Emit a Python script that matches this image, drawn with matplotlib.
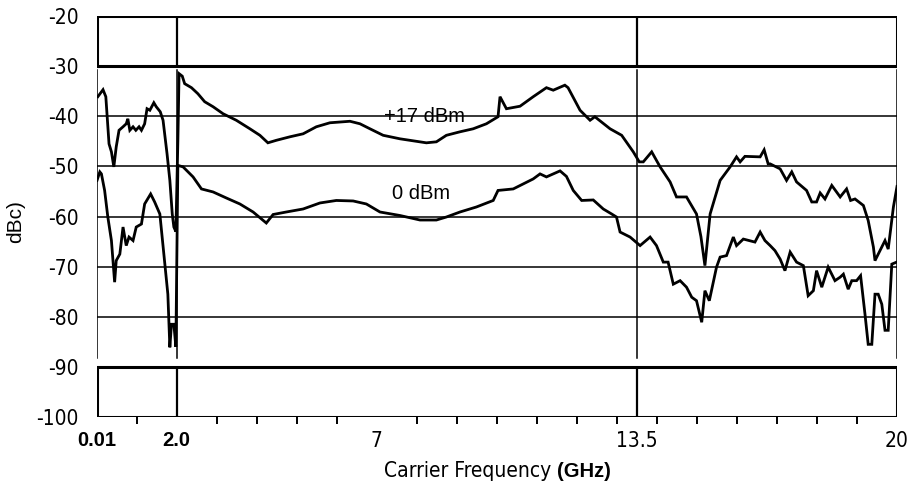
import matplotlib
matplotlib.use("Agg")
import matplotlib.pyplot as plt

# ====== DỮ LIỆU ======
# Tần số sóng mang (GHz) và mức hài (dBc) cho hai mức công suất
freq_hi = [0.03, 0.16, 0.23, 0.31, 0.37, 0.43, 0.49, 0.56, 0.66, 0.74, 0.78, 0.83,
           0.91, 0.98, 1.06, 1.12, 1.20, 1.26, 1.33, 1.43, 1.49, 1.59, 1.66, 1.76,
           1.83, 1.89, 1.93, 1.98, 2.03, 2.06, 2.14, 2.20, 2.37, 2.53, 2.70, 2.91,
           3.16, 3.49, 3.83, 4.08, 4.28, 4.49, 4.83, 5.16, 5.49, 5.83, 6.33, 6.58,
           6.83, 7.16, 7.58, 8.24, 8.49, 8.74, 9.08, 9.41, 9.74, 10.03, 10.08, 10.24,
           10.58, 10.91, 11.24, 11.41, 11.70, 11.78, 12.08, 12.33, 12.45, 12.83, 13.12,
           13.41, 13.56, 13.66, 13.87, 14.08, 14.33, 14.49, 14.74, 14.99, 15.10, 15.20,
           15.33, 15.58, 15.83, 15.99, 16.08, 16.20, 16.58, 16.68, 16.78, 16.83, 17.08,
           17.24, 17.37, 17.49, 17.74, 17.87, 17.99, 18.08, 18.20, 18.37, 18.58, 18.74,
           18.84, 18.95, 19.16, 19.28, 19.41, 19.45, 19.70, 19.78, 19.91, 20.0]
dbc_hi = [-36.1, -34.7, -36.1, -45.5, -47.1, -50.1, -46.1, -42.8, -42.1, -41.5, -40.5, -42.8,
          -42.1, -42.8, -42.1, -42.8, -41.5, -38.5, -38.8, -37.3, -38.1, -39.1, -40.8, -47.5,
          -52.8, -59.5, -62.1, -63.0, -45.0, -31.5, -32.0, -33.5, -34.3, -35.5, -37.1, -38.1,
          -39.5, -40.8, -42.5, -43.8, -45.3, -44.8, -44.1, -43.5, -42.1, -41.3, -41.0, -41.5,
          -42.5, -43.8, -44.5, -45.3, -45.1, -43.8, -43.1, -42.5, -41.5, -40.1, -36.1, -38.5,
          -38.0, -36.1, -34.3, -34.8, -33.8, -34.3, -38.8, -40.8, -40.1, -42.5, -43.8,
          -47.1, -49.1, -49.1, -47.1, -50.1, -53.1, -56.1, -56.1, -59.5, -64.0, -69.8,
          -59.5, -52.8, -50.1, -48.1, -49.1, -48.0, -48.1, -46.7, -49.5, -49.5, -50.5,
          -52.8, -51.1, -53.1, -54.8, -57.1, -57.1, -55.3, -56.5, -53.8, -56.1, -54.5,
          -56.8, -56.5, -57.8, -60.8, -66.1, -68.8, -64.8, -66.5, -58.1, -54.0]

freq_lo = [0.01, 0.08, 0.12, 0.20, 0.28, 0.37, 0.45, 0.49, 0.58, 0.66, 0.74, 0.81,
           0.91, 0.99, 1.12, 1.20, 1.35, 1.45, 1.58, 1.68, 1.78, 1.83, 1.87, 1.93,
           1.98, 2.03, 2.16, 2.41, 2.62, 2.91, 3.24, 3.58, 3.91, 4.24, 4.41, 4.74,
           5.16, 5.58, 5.99, 6.41, 6.74, 7.08, 7.58, 8.08, 8.49, 8.74, 9.08, 9.49,
           9.91, 10.03, 10.41, 10.91, 11.08, 11.24, 11.41, 11.58, 11.74, 11.91, 12.12,
           12.41, 12.66, 12.87, 12.99, 13.08, 13.33, 13.58, 13.83, 13.99, 14.16, 14.28,
           14.41, 14.58, 14.74, 14.87, 14.99, 15.12, 15.20, 15.31, 15.49, 15.58, 15.74,
           15.91, 15.99, 16.16, 16.45, 16.58, 16.70, 16.83, 16.95, 17.08, 17.20, 17.33,
           17.49, 17.66, 17.78, 17.91, 17.99, 18.12, 18.28, 18.45, 18.58, 18.66, 18.78,
           18.87, 18.99, 19.09, 19.20, 19.28, 19.37, 19.45, 19.53, 19.62, 19.70, 19.78,
           19.87, 19.99]
dbc_lo = [-52.8, -51.1, -51.5, -54.8, -60.1, -64.8, -73.1, -68.8, -67.5, -62.1, -65.8, -64.1,
          -64.8, -62.1, -61.5, -57.5, -55.5, -57.1, -59.5, -67.5, -75.5, -86.1, -81.5, -81.5,
          -86.0, -49.8, -50.1, -52.1, -54.5, -55.1, -56.3, -57.5, -59.1, -61.3, -59.6, -59.1,
          -58.5, -57.3, -56.8, -56.9, -57.5, -59.1, -59.8, -60.7, -60.7, -60.1, -59.1, -58.1,
          -56.8, -54.8, -54.5, -52.5, -51.5, -52.1, -51.5, -50.9, -52.0, -54.8, -56.8,
          -56.7, -58.5, -59.5, -60.1, -63.1, -64.1, -65.8, -64.1, -65.8, -69.1, -69.1,
          -73.5, -72.8, -74.1, -76.1, -76.8, -81.1, -74.8, -76.8, -70.1, -68.1, -67.8,
          -64.1, -65.8, -64.5, -65.1, -63.1, -64.8, -65.8, -66.8, -68.5, -70.8, -67.1,
          -69.1, -69.8, -75.8, -74.8, -70.8, -74.1, -70.1, -72.8, -72.1, -71.5, -74.5,
          -72.8, -72.8, -71.8, -79.5, -85.5, -85.5, -75.5, -75.5, -77.5, -82.7, -82.7,
          -69.5, -69.1]

x_ticks = [0.01, 2.0, 7, 13.5, 20]
x_tick_labels = ["0.01", "2.0", "7", "13.5", "20"]
y_ticks = [-20, -30, -40, -50, -60, -70, -80, -90, -100]

NARROW = ["DejaVu Sans Condensed", "Liberation Sans Narrow", "DejaVu Sans"]
REGULAR = ["Liberation Sans", "DejaVu Sans"]

# ====== VẼ ======
fig = plt.figure(figsize=(9.17, 4.91), dpi=100)
ax = fig.add_axes([0.1058, 0.1507, 0.8724, 0.8167])
ax.set_xlim(0.01, 20)
ax.set_ylim(-100, -20)
for s in ax.spines.values():
    s.set_visible(False)

THICK = 2.2
THIN = 1.1

# khung trên và khung dưới (nét đậm)
for y in (-20, -30, -90, -100):
    ax.plot([0.01, 20], [y, y], color="black", lw=THICK, solid_capstyle="projecting")
for x in (0.01, 2.0, 13.5, 20):
    ax.plot([x, x], [-20, -30], color="black", lw=THICK if x in (0.01, 20) else 1.6)
    ax.plot([x, x], [-90.4, -100], color="black", lw=THICK if x in (0.01, 20) else 1.6)

# lưới giữa (nét mảnh)
for y in (-40, -50, -60, -70, -80):
    ax.plot([0.01, 20], [y, y], color="black", lw=THIN)
for x in (0.01, 2.0, 13.5, 20):
    ax.plot([x, x], [-30.8, -88.2], color="black", lw=THIN)

# hai đường đo
ax.plot(freq_hi, dbc_hi, color="black", lw=2.0, solid_joinstyle="miter")
ax.plot(freq_lo, dbc_lo, color="black", lw=2.0, solid_joinstyle="miter")

ax.text(8.2, -40.0, "+17 dBm", ha="center", va="center", fontsize=14.5, family=REGULAR)
ax.text(8.1, -55.5, "0 dBm", ha="center", va="center", fontsize=14.5, family=REGULAR)

# trục
ax.set_yticks(y_ticks)
ax.set_yticklabels([str(v) for v in y_ticks], fontsize=15, family=NARROW, fontstretch="condensed")
ax.tick_params(axis="y", length=0, pad=13)

ax.set_xticks(x_ticks)
ax.set_xticklabels(x_tick_labels, fontsize=15, family=NARROW, fontstretch="condensed")
ax.set_xticks(range(1, 20), minor=True)
ax.tick_params(axis="x", which="major", length=0, pad=10)
ax.tick_params(axis="x", which="minor", length=5, width=1.4, direction="out")
for lbl in ax.get_xticklabels()[:2]:
    lbl.set_fontweight("bold")
    lbl.set_family(REGULAR)
    lbl.set_fontsize(14.5)

fig.text(0.017, 0.548, "dBc)", rotation=90, ha="center", va="center", fontsize=15, family=REGULAR)
fig.text(557 / 917, 0.040, "Carrier Frequency ", ha="right", va="center", fontsize=15,
         family=NARROW, fontstretch="condensed")
fig.text(557 / 917, 0.040, "(GHz)", ha="left", va="center", fontsize=14.5, fontweight="bold", family=REGULAR)

plt.savefig("out.png", dpi=100)
plt.close()
